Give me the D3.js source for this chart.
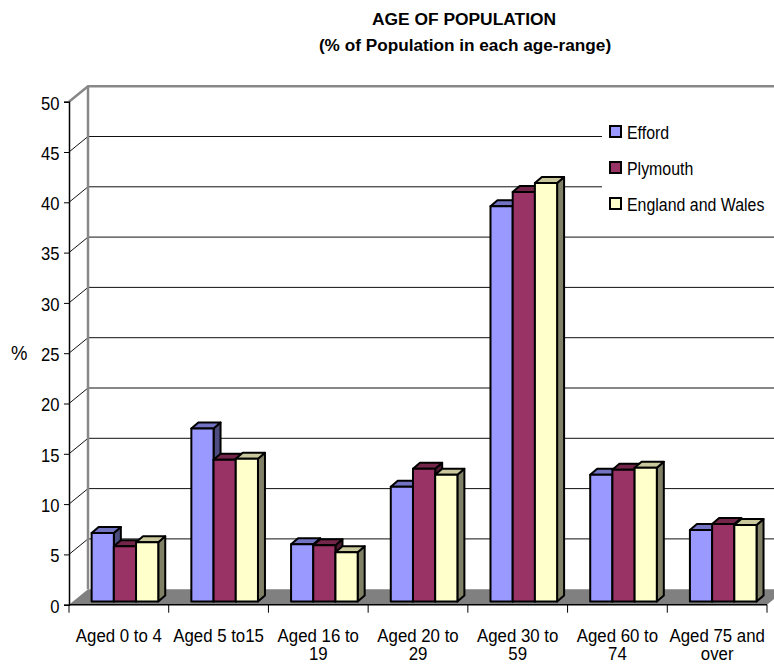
<!DOCTYPE html>
<html>
<head>
<meta charset="utf-8">
<script src="https://cdn.jsdelivr.net/npm/d3@7"></script>
<style>
  html, body { margin: 0; padding: 0; background: #fff; }
  svg { display: block; }
  text { font-family: "Liberation Sans", Arial, sans-serif; fill: #000; }
</style>
</head>
<body>
<svg id="chart" width="774" height="672"></svg>
<script>
// Age bands along the x axis (label lines split with "|")
const categories = ["Aged 0 to 4", "Aged 5 to15", "Aged 16 to|19", "Aged 20 to|29",
                    "Aged 30 to|59", "Aged 60 to|74", "Aged 75 and|over"];
const seriesNames = ["Efford", "Plymouth", "England and Wales"];

// % of population in each age range
const efford    = [6.8, 17.2, 5.7, 11.4, 39.3, 12.6, 7.1];
const plymouth  = [5.5, 14.1, 5.6, 13.2, 40.7, 13.1, 7.7];
const englandWales = [5.9, 14.2, 4.9, 12.6, 41.6, 13.3, 7.6];

const yTicks = [0, 5, 10, 15, 20, 25, 30, 35, 40, 45, 50];

const seriesValues = [efford, plymouth, englandWales];
const frontColors = ["#9999FF", "#993366", "#FFFFCC"];
const topColors   = ["#7373C4", "#732649", "#C8C89C"];
const sideColors  = ["#4D4D80", "#4D1A33", "#808066"];

const svg = d3.select("#chart");

// front plane scales; the back wall sits up and to the right by the depth offset
const x = d3.scaleBand().domain(categories).range([69, 767]).padding(0);
const y = d3.scaleLinear().domain([0, 50]).range([604.7, 101.7]);
const DX = 19, DY = -15.5;
const bw = x.bandwidth();
const xs = d3.scaleBand().domain(seriesNames).range([0.227 * bw, 0.895 * bw]).padding(0);
const BAR_DX = 7, BAR_DY = -6, BAR_LIFT = 3.2;

// narrow-looking text: a larger size squeezed horizontally
function narrowText(parent, tx, ty, size, sx) {
  return parent.append("text")
    .attr("transform", `translate(${tx},${ty}) scale(${sx},1)`)
    .style("font-size", size + "px");
}

// Title
svg.append("text").attr("x", 464).attr("y", 25).attr("text-anchor", "middle")
  .style("font-size", "17.4px").style("font-weight", "bold").text("AGE OF POPULATION");
svg.append("text").attr("x", 465).attr("y", 51).attr("text-anchor", "middle")
  .style("font-size", "17.2px").style("font-weight", "bold").text("(% of Population in each age-range)");

// Floor
const x0 = x.range()[0], x1 = x.range()[1];
svg.append("path")
  .attr("d", `M${x0},${y(0)}L${x1},${y(0)}L${x1 + DX},${y(0) + DY}L${x0 + DX},${y(0) + DY}Z`)
  .attr("fill", "#808080");

// Back-wall gridlines and the diagonal links to the front axis
const grid = svg.append("g");
yTicks.filter(v => v > 0 && v < 50).forEach(v => {
  grid.append("line").attr("x1", x0 + DX).attr("x2", 800)
    .attr("y1", y(v) + DY).attr("y2", y(v) + DY)
    .attr("stroke", "#111").attr("stroke-width", 1);
});
yTicks.filter(v => v > 0).forEach(v => {
  grid.append("line").attr("x1", x0).attr("y1", y(v))
    .attr("x2", x0 + DX).attr("y2", y(v) + DY)
    .attr("stroke", "#111").attr("stroke-width", 1);
});
// wall edges
svg.append("path")
  .attr("d", `M${x0},${y(50)}L${x0 + DX},${y(50) + DY}L800,${y(50) + DY}`)
  .attr("fill", "none").attr("stroke", "#888").attr("stroke-width", 2.5);
svg.append("line").attr("x1", x0 + DX).attr("x2", x0 + DX)
  .attr("y1", y(50) + DY).attr("y2", y(0) + DY)
  .attr("stroke", "#888").attr("stroke-width", 2.5);

// Legend (white box hides the gridlines behind it)
const legend = svg.append("g");
legend.append("rect").attr("x", 602).attr("y", 112).attr("width", 180).attr("height", 110).attr("fill", "#fff");
seriesNames.forEach((name, i) => {
  const cy = 132 + i * 36;
  legend.append("rect").attr("x", 610).attr("y", cy - 6).attr("width", 11).attr("height", 11)
    .attr("fill", frontColors[i]).attr("stroke", "#000").attr("stroke-width", 2);
  narrowText(legend, 627, cy + 7, 18.5, 0.86).text(name);
});

// Bars: side face, top face, then front face; drawn left to right
const bars = svg.append("g");
categories.forEach((cat, ci) => {
  seriesNames.forEach((s, si) => {
    const v = seriesValues[si][ci];
    const left = x(cat) + xs(s);
    const right = left + xs.bandwidth();
    const base = y(0) - BAR_LIFT;
    const top = y(v) - BAR_LIFT;
    const g = bars.append("g").attr("stroke", "#000").attr("stroke-width", 2).attr("stroke-linejoin", "round");
    g.append("path")
      .attr("d", `M${right},${base}L${right + BAR_DX},${base + BAR_DY}L${right + BAR_DX},${top + BAR_DY}L${right},${top}Z`)
      .attr("fill", sideColors[si]);
    g.append("path")
      .attr("d", `M${left},${top}L${left + BAR_DX},${top + BAR_DY}L${right + BAR_DX},${top + BAR_DY}L${right},${top}Z`)
      .attr("fill", topColors[si]);
    g.append("rect").attr("x", left).attr("y", top)
      .attr("width", right - left).attr("height", base - top)
      .attr("fill", frontColors[si]);
  });
});

// Y axis
const yAxis = svg.append("g").attr("transform", `translate(${x0},0)`)
  .call(d3.axisLeft(y).tickValues(yTicks).tickSize(5).tickPadding(5).tickFormat(d3.format("d")));
yAxis.select(".domain").attr("stroke", "#000").attr("stroke-width", 1.5);
yAxis.selectAll(".tick line").attr("stroke", "#000");
yAxis.selectAll(".tick text").style("font-size", "17.5px").attr("font-family", null)
  .attr("dy", "0.42em").attr("transform", "scale(0.95,1)");

narrowText(svg, 11, y(25) + 7, 19.5, 0.95).text("%");

// X axis: baseline with ticks at category boundaries
svg.append("line").attr("x1", x0).attr("x2", x1).attr("y1", y(0)).attr("y2", y(0))
  .attr("stroke", "#000").attr("stroke-width", 1.5);
const bounds = categories.map(c => x(c)).concat([x1]);
bounds.forEach(b => {
  svg.append("line").attr("x1", b).attr("x2", b).attr("y1", y(0)).attr("y2", y(0) + 8)
    .attr("stroke", "#000").attr("stroke-width", 1);
});
categories.forEach(cat => {
  const lines = cat.split("|");
  const t = narrowText(svg, x(cat) + bw / 2, 641.5, 18.5, 0.91).attr("text-anchor", "middle");
  lines.forEach((ln, li) => {
    t.append("tspan").attr("x", 0).attr("y", li * 19).text(ln);
  });
});
</script>
</body>
</html>
